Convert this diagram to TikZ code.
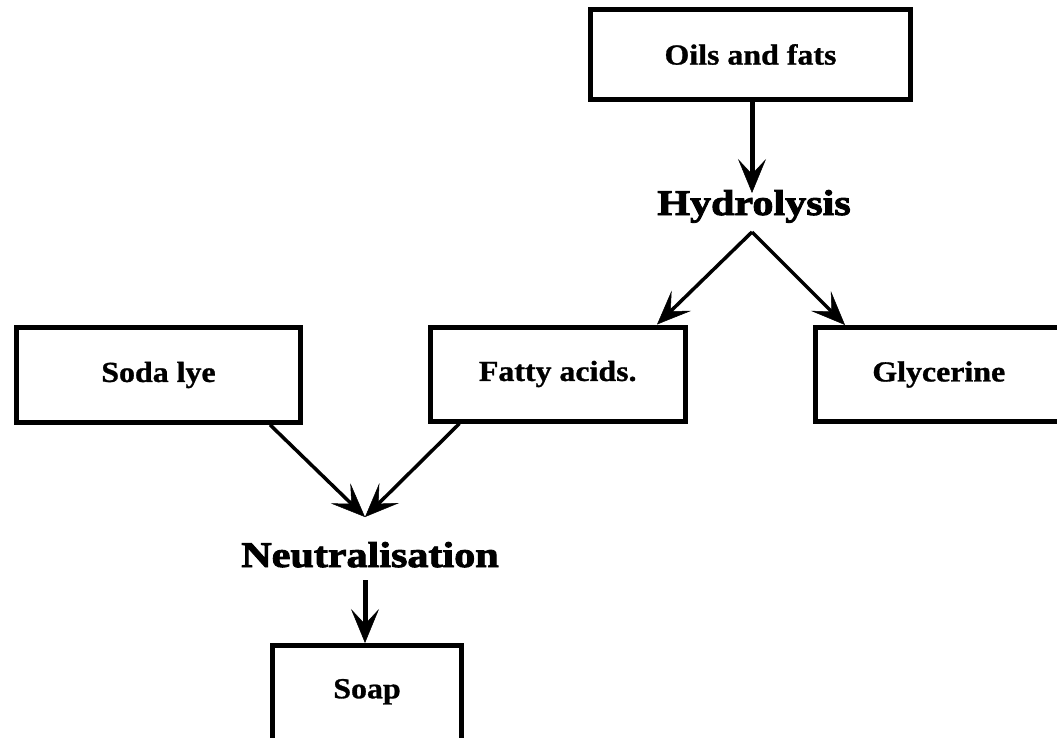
\documentclass[tikz,border=0pt]{standalone}
\usepackage{fontspec}
\newfontfamily\headfont[FakeBold=2.5,FakeStretch=1.17]{Liberation Serif Bold}
\newfontfamily\boxfont[FakeBold=1,FakeStretch=1.1]{Liberation Serif Bold}
\usetikzlibrary{arrows.meta}
\tikzset{
  box/.style={draw, line width=5pt, rectangle, inner sep=0pt, font=\boxfont\fontsize{29}{30}\selectfont},
  head/.style={inner sep=0pt, anchor=base, font=\headfont\fontsize{36}{40}\selectfont},
  arr/.style={line width=3.5pt, -{Stealth[length=34pt,width=28pt,inset=15pt,line width=0.5pt]}},
  varr/.style={arr, line width=5pt},
}
\begin{document}
\begin{tikzpicture}[x=1pt,y=-1pt]
\useasboundingbox (0,0) rectangle (1057,738);
\node[box, minimum width=319.5pt, minimum height=90pt] (oils) at (750.5,54.5) {Oils and fats};
\node[head] (hyd) at (754,215) {Hydrolysis};
\node[box, minimum width=284pt, minimum height=94.5pt] (soda) at (158.5,375) {Soda lye};
\node[box, minimum width=255.5pt, minimum height=94pt] (fatty) at (557.75,374) {Fatty acids.};
\node[box, minimum width=246.5pt, minimum height=94pt] (glyc) at (938.75,374.5) {Glycerine};
\node[head] (neut) at (370,567) {Neutralisation};
\node[box, minimum width=189pt, minimum height=99.5pt, text height=19pt, text depth=13pt] (soap) at (367,695.25) {Soap};
\draw[varr] ([xshift=1.5pt]oils.south) -- ([xshift=-2pt,yshift=22pt]hyd.base);
\draw[arr] ([xshift=-2pt,yshift=-17pt]hyd.base) -- ([xshift=-31pt]fatty.north east);
\draw[arr] ([xshift=-2pt,yshift=-17pt]hyd.base) -- ([xshift=32pt]glyc.north west);
\draw[arr] ([xshift=-33pt]soda.south east) -- ([xshift=-5pt,yshift=50pt]neut.base);
\draw[arr] ([xshift=32pt]fatty.south west) -- ([xshift=-5pt,yshift=50pt]neut.base);
\draw[varr] ([xshift=-5pt,yshift=-13pt]neut.base) -- ([xshift=-5pt]neut.base |- soap.north);
\end{tikzpicture}
\end{document}
